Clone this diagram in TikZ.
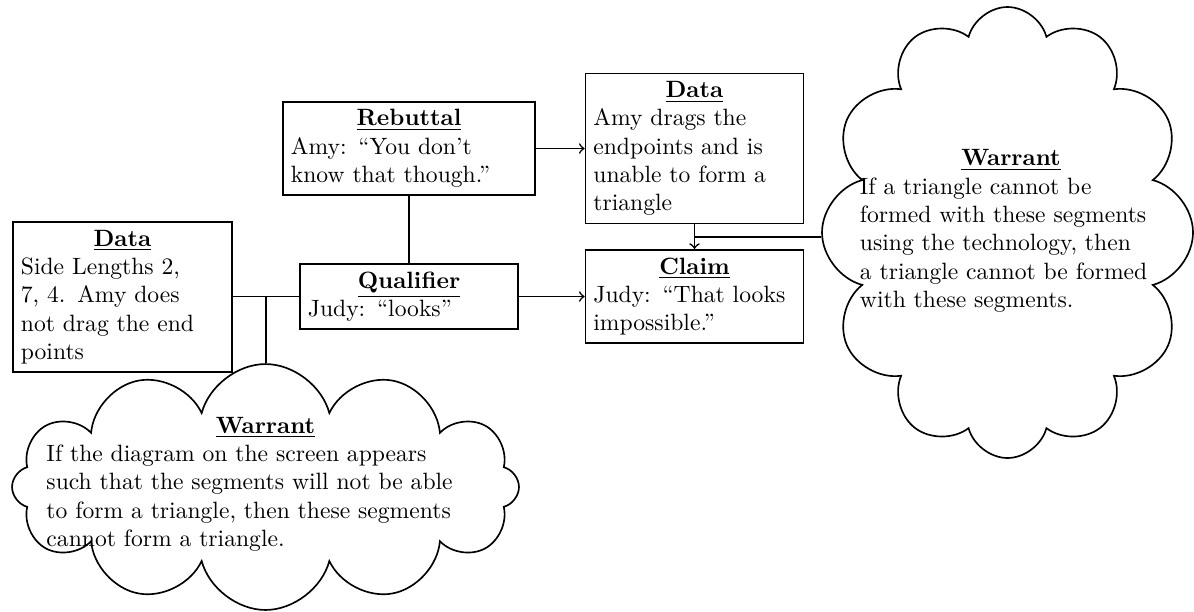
\documentclass[tikz,border=0pt]{standalone}
\usetikzlibrary{shapes.symbols}
\newcommand{\hd}[1]{\hfill\underline{\textbf{#1}}\hfill\null\\}

\begin{document}
\begin{tikzpicture}[
  box/.style={draw,line width=0.7pt,align=left,inner sep=3.33pt},
  puff/.style={cloud,cloud puffs=12,cloud puff arc=150,draw,line width=0.7pt,cloud ignores aspect,inner sep=0pt},
  txt/.style={align=left,inner sep=0pt},
  link/.style={line width=0.7pt},
  x=0.4237pt,y=-0.4237pt
]
  \useasboundingbox (0,0) rectangle (1194,611);
  \node[box,text width=86.1pt] (data1) at (122.5,297) {\hd{Data}Side Lengths 2,\\7, 4. Amy does\\not drag the end\\points};
  \node[box,text width=85.7pt] (qual) at (409,296.5) {\hd{Qualifier}Judy: “looks”};
  \node[box,text width=100.1pt] (reb) at (409,148.5) {\hd{Rebuttal}Amy: “You don’t\\know that though.”};
  \node[box,text width=85.7pt] (data2) at (694.5,148.5) {\hd{Data}Amy drags the\\endpoints and is\\unable to form a\\triangle};
  \node[box,text width=85.7pt] (claim) at (694.5,296.5) {\hd{Claim}Judy: “That looks\\impossible.”};
  \node[puff,minimum width=214.8pt,minimum height=104.2pt] (war1) at (265.5,487) {};
  \node[txt,text width=185.6pt] (war1txt) at (265.5,484) {\hd{Warrant}If the diagram on the screen appears\\such that the segments will not be able\\to form a triangle, then these segments\\cannot form a triangle.};
  \node[puff,minimum width=157.2pt,minimum height=191.1pt] (war2) at (1007.5,232.5) {};
  \node[txt,text width=128pt] (war2txt) at (1011,231) {\hd{Warrant}If a triangle cannot be\\formed with these segments\\using the technology, then\\a triangle cannot be formed\\with these segments.};
  \draw[link] (data1.east |- qual.west) -- coordinate (jd) (qual.west);
  \draw[link] (jd) -- (jd |- war1.north);
  \draw[link] (reb.south) -- (qual.north);
  \draw[link,->] (reb.east) -- (data2.west);
  \draw[link,->] (qual.east) -- (claim.west);
  \draw[link,->] (data2.south) -- coordinate (jw) (claim.north);
  \draw[link] (jw) -- (jw -| war2.west);
\end{tikzpicture}
\end{document}
